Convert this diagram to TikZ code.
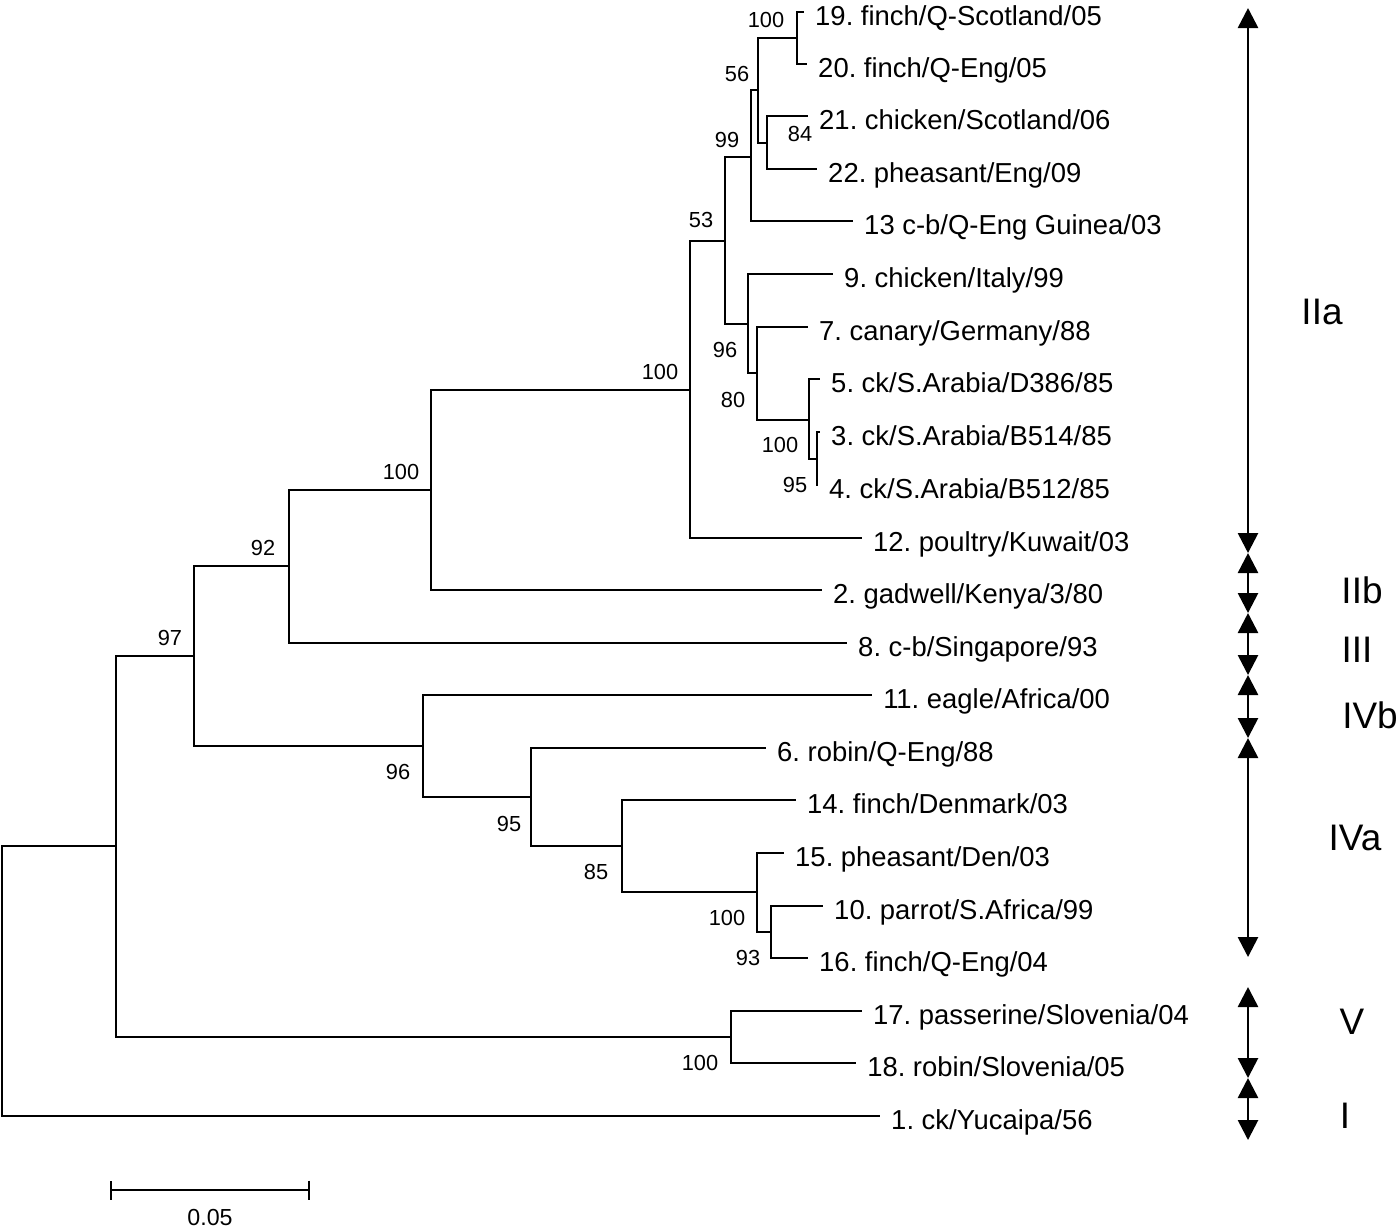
\documentclass[tikz,border=0pt]{standalone}
\usepackage{fontspec}
\setmainfont{Liberation Sans}
\usetikzlibrary{arrows.meta}
\frenchspacing
\begin{document}
\begin{tikzpicture}[x=0.01cm, y=-0.01cm, line width=0.7pt,
    >={Triangle[width=2mm, length=2mm]},
    leaf/.style={anchor=west, inner xsep=1mm, inner ysep=0pt, text height=0.76em, text depth=0pt, font=\fontsize{7.8}{9}\selectfont},
    boot/.style={inner sep=0pt, font=\fontsize{6.2}{7}\selectfont},
    clade/.style={inner sep=0pt, font=\fontsize{10.5}{12}\selectfont},
    bar/.style={<->, line width=0.75pt}]
    \useasboundingbox (0,0) rectangle (1400,1226);

    % leaves
    \node[leaf] (l19) at (804,12) {19. finch/Q-Scotland/05};
    \node[leaf] (l20) at (807,64) {20. finch/Q-Eng/05};
    \node[leaf] (l21) at (808,116) {21. chicken/Scotland/06};
    \node[leaf] (l22) at (817,169) {22. pheasant/Eng/09};
    \node[leaf] (l13) at (853,221) {13 c-b/Q-Eng Guinea/03};
    \node[leaf] (l9) at (833,274) {9. chicken/Italy/99};
    \node[leaf] (l7) at (808,327) {7. canary/Germany/88};
    \node[leaf] (l5) at (820,379) {5. ck/S.Arabia/D386/85};
    \node[leaf] (l3) at (820,432) {3. ck/S.Arabia/B514/85};
    \node[leaf] (l4) at (818,485) {4. ck/S.Arabia/B512/85};
    \node[leaf] (l12) at (862,538) {12. poultry/Kuwait/03};
    \node[leaf] (l2) at (822,590) {2. gadwell/Kenya/3/80};
    \node[leaf] (l8) at (847,643) {8. c-b/Singapore/93};
    \node[leaf] (l11) at (872,695) {11. eagle/Africa/00};
    \node[leaf] (l6) at (766,748) {6. robin/Q-Eng/88};
    \node[leaf] (l14) at (796,800) {14. finch/Denmark/03};
    \node[leaf] (l15) at (784,853) {15. pheasant/Den/03};
    \node[leaf] (l10) at (823,906) {10. parrot/S.Africa/99};
    \node[leaf] (l16) at (808,958) {16. finch/Q-Eng/04};
    \node[leaf] (l17) at (862,1011) {17. passerine/Slovenia/04};
    \node[leaf] (l18) at (856,1063) {18. robin/Slovenia/05};
    \node[leaf] (l1) at (880,1116) {1. ck/Yucaipa/56};

    % internal nodes
    \coordinate (nA) at (797,38);
    \coordinate (nC) at (767,143);
    \coordinate (nB) at (758,90);
    \coordinate (nD) at (751,157);
    \coordinate (nI) at (817,459);
    \coordinate (nH) at (809,420);
    \coordinate (nG) at (757,373);
    \coordinate (nF) at (748,324);
    \coordinate (nE) at (725,241);
    \coordinate (nJ) at (690,390);
    \coordinate (nK) at (431,490);
    \coordinate (nL) at (289,566);
    \coordinate (nM) at (194,656);
    \coordinate (nR) at (771,932);
    \coordinate (nQ) at (757,892);
    \coordinate (nP) at (622,846);
    \coordinate (nO) at (531,797);
    \coordinate (nN) at (423,746);
    \coordinate (nS) at (731,1037);
    \coordinate (nT) at (116,846);
    \coordinate (nRoot) at (2,981);

    % branches
    \draw (nA) |- (l19.west);
    \draw (nA) |- (l20.west);
    \draw (nC) |- (l21.west);
    \draw (nC) |- (l22.west);
    \draw (nB) |- (nA);
    \draw (nB) |- (nC);
    \draw (nD) |- (nB);
    \draw (nD) |- (l13.west);
    \draw (nI) |- (l3.west);
    \draw (nI) |- (l4.west);
    \draw (nH) |- (l5.west);
    \draw (nH) |- (nI);
    \draw (nG) |- (l7.west);
    \draw (nG) |- (nH);
    \draw (nF) |- (l9.west);
    \draw (nF) |- (nG);
    \draw (nE) |- (nD);
    \draw (nE) |- (nF);
    \draw (nJ) |- (nE);
    \draw (nJ) |- (l12.west);
    \draw (nK) |- (nJ);
    \draw (nK) |- (l2.west);
    \draw (nL) |- (nK);
    \draw (nL) |- (l8.west);
    \draw (nR) |- (l10.west);
    \draw (nR) |- (l16.west);
    \draw (nQ) |- (l15.west);
    \draw (nQ) |- (nR);
    \draw (nP) |- (l14.west);
    \draw (nP) |- (nQ);
    \draw (nO) |- (l6.west);
    \draw (nO) |- (nP);
    \draw (nN) |- (l11.west);
    \draw (nN) |- (nO);
    \draw (nM) |- (nL);
    \draw (nM) |- (nN);
    \draw (nS) |- (l17.west);
    \draw (nS) |- (l18.west);
    \draw (nT) |- (nM);
    \draw (nT) |- (nS);
    \draw (nRoot) |- (nT);
    \draw (nRoot) |- (l1.west);

    % bootstrap values
    \node[boot] (bA) at (766,20) {100};
    \node[boot] (bB) at (737,74) {56};
    \node[boot] (bC) at (800,134) {84};
    \node[boot] (bD) at (727,140) {99};
    \node[boot] (bE) at (701,220) {53};
    \node[boot] (bF) at (725,350) {96};
    \node[boot] (bG) at (733,400) {80};
    \node[boot] (bH) at (780,445) {100};
    \node[boot] (bI) at (795,485) {95};
    \node[boot] (bJ) at (660,372) {100};
    \node[boot] (bK) at (401,472) {100};
    \node[boot] (bL) at (263,548) {92};
    \node[boot] (bM) at (170,638) {97};
    \node[boot] (bN) at (398,772) {96};
    \node[boot] (bO) at (509,824) {95};
    \node[boot] (bP) at (596,872) {85};
    \node[boot] (bQ) at (727,918) {100};
    \node[boot] (bR) at (748,958) {93};
    \node[boot] (bS) at (700,1063) {100};

    % genotype bar
    \coordinate (g0) at (1248,8);
    \coordinate (g1) at (1248,553);
    \coordinate (g2) at (1248,613);
    \coordinate (g3) at (1248,675);
    \coordinate (g4) at (1248,738);
    \coordinate (g5) at (1248,957);
    \coordinate (g6) at (1248,987);
    \coordinate (g7) at (1248,1078);
    \coordinate (g8) at (1248,1140);
    \draw[bar] (g0) -- (g1);
    \draw[bar] (g1) -- (g2);
    \draw[bar] (g2) -- (g3);
    \draw[bar] (g3) -- (g4);
    \draw[bar] (g4) -- (g5);
    \draw[bar] (g6) -- (g7);
    \draw[bar] (g7) -- (g8);
    \node[clade] (IIa) at (1322,312) {IIa};
    \node[clade] (IIb) at (1362,590) {IIb};
    \node[clade] (III) at (1357,650) {III};
    \node[clade] (IVb) at (1370,715) {IVb};
    \node[clade] (IVa) at (1355,838) {IVa};
    \node[clade] (V) at (1352,1022) {V};
    \node[clade] (I) at (1345,1116) {I};

    % scale bar
    \coordinate (s0) at (110,1190);
    \coordinate (s1) at (310,1190);
    \draw[{Bar[width=1.9mm]}-{Bar[width=1.9mm]}] (s0) -- (s1);
    \node[boot, font=\fontsize{6.6}{8}\selectfont] (scl) at (210,1217) {0.05};

\end{tikzpicture}
\end{document}
